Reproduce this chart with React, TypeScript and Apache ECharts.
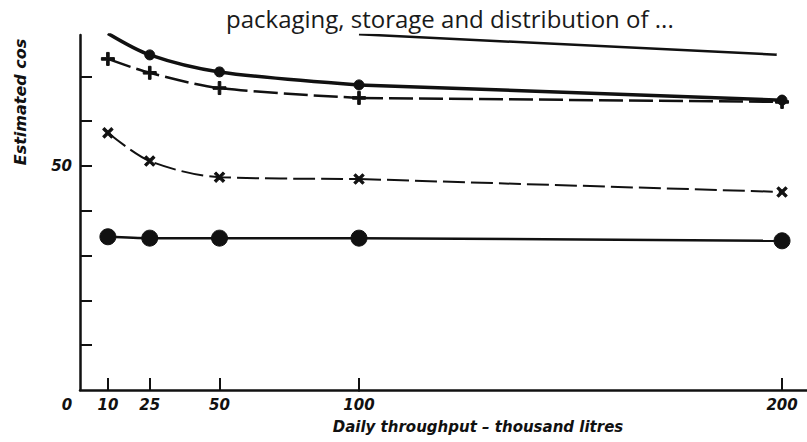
import React, { useEffect, useRef } from "react";
import * as echarts from "echarts";

const titleText = "packaging, storage and distribution of ...";
const xAxisName = "Daily throughput – thousand litres";
const yAxisName = "Estimated cos";

const xValues = [10, 25, 50, 100, 200];
const filledDot = [79.6, 74.8, 71.0, 68.1, 64.7];
const plusSeries = [73.9, 70.8, 67.4, 65.2, 64.3];
const crossSeries = [57.4, 51.1, 47.5, 47.1, 44.2];
const circleSeries = [34.2, 33.9, 33.9, 33.9, 33.3];
const openCircleX = [100, 200];
const openCircle = [79.4, 74.8];

const xLabelsLeft = [0, 10, 25, 50, 100];
const xTicksLeft = [10, 25, 50, 100];
const xTicksRight = [200];
const yTicks = [10, 20, 30, 40, 50, 60, 70];
const yLabels = [50];

const INK = "#111";
const PLUS = "path://M4,0H6V4H10V6H6V10H4V6H0V4H4Z";

function part(xs: number[], ys: number[], left: boolean) {
  const out: any[] = [];
  xs.forEach((x, i) => {
    if (left && x <= 100) out.push([x, ys[i]]);
    if (!left && x >= 100) {
      if (x === 100) out.push({ value: [x, ys[i]], symbol: "none" });
      else out.push([x, ys[i]]);
    }
  });
  return out;
}

export default function App() {
  const ref = useRef<HTMLDivElement>(null);
  useEffect(() => {
    if (!ref.current) return;
    const chart = echarts.init(ref.current, null, { renderer: "svg" });
    const labelFont = {
      fontFamily: "DejaVu Sans",
      fontWeight: "bold" as const,
      fontStyle: "italic" as const,
      fontSize: 15,
      color: INK,
    };
    const mk = (
      name: string,
      ys: number[],
      symbol: string,
      size: number,
      width: number,
      type: any,
      rotate = 0
    ) => [
      {
        name,
        type: "line",
        xAxisIndex: 0,
        yAxisIndex: 0,
        data: part(xValues, ys, true),
        symbol,
        symbolSize: size,
        symbolRotate: rotate,
        smooth: 0.3,
        clip: true,
        lineStyle: { color: INK, width, type },
        itemStyle: { color: INK, borderColor: INK },
      },
      {
        name,
        type: "line",
        xAxisIndex: 1,
        yAxisIndex: 1,
        data: part(xValues, ys, false),
        symbol,
        symbolSize: size,
        symbolRotate: rotate,
        clip: true,
        lineStyle: { color: INK, width, type },
        itemStyle: { color: INK, borderColor: INK },
      },
    ];
    const axisLine = { show: true, lineStyle: { color: INK, width: 2.5 } };
    chart.setOption({
      animation: false,
      backgroundColor: "#fff",
      title: {
        text: titleText,
        left: 221,
        top: 1,
        textStyle: {
          fontFamily: "Open Sans",
          fontWeight: "normal",
          fontSize: 24,
          color: "#1a1a1a",
        },
      },
      grid: [
        { left: 80, top: 35, width: 279, bottom: 52 },
        { left: 359, top: 35, right: 0, bottom: 52 },
      ],
      xAxis: [
        {
          type: "value",
          gridIndex: 0,
          min: 0,
          max: 100,
          axisLine,
          splitLine: { show: false },
          axisTick: {
            show: true,
            inside: true,
            length: 12,
            customValues: xTicksLeft,
            lineStyle: { color: INK, width: 2 },
          },
          axisLabel: {
            customValues: xLabelsLeft,
            margin: 7,
            ...labelFont,
            formatter: (v: number) => (v === 0 ? "{z|0}" : String(v)),
            rich: { z: { ...labelFont, padding: [0, 26, 0, 0] } },
          },
        },
        {
          type: "value",
          gridIndex: 1,
          min: 100,
          max: 205.9,
          axisLine,
          splitLine: { show: false },
          axisTick: {
            show: true,
            inside: true,
            length: 12,
            customValues: xTicksRight,
            lineStyle: { color: INK, width: 2 },
          },
          axisLabel: { customValues: xTicksRight, margin: 7, ...labelFont },
        },
      ],
      yAxis: [
        {
          type: "value",
          gridIndex: 0,
          min: 0,
          max: 79.24,
          interval: 10,
          axisLine,
          splitLine: { show: false },
          axisTick: {
            show: true,
            inside: true,
            length: 12,
            customValues: yTicks,
            lineStyle: { color: INK, width: 2 },
          },
          axisLabel: { customValues: yLabels, margin: 8, ...labelFont },
        },
        {
          type: "value",
          gridIndex: 1,
          min: 0,
          max: 79.24,
          interval: 10,
          show: false,
          splitLine: { show: false },
        },
      ],
      graphic: [
        {
          type: "text",
          x: 478,
          y: 427,
          style: {
            text: xAxisName,
            ...labelFont,
            fill: INK,
            align: "center",
            verticalAlign: "middle",
          },
        },
        {
          type: "text",
          x: 20,
          y: 102,
          rotation: Math.PI / 2,
          style: {
            text: yAxisName,
            ...labelFont,
            fontSize: 16,
            fill: INK,
            align: "center",
            verticalAlign: "middle",
          },
        },
      ],
      series: [
        ...mk("Filled dot", filledDot, "circle", 10, 3.5, "solid"),
        ...mk("Plus", plusSeries, PLUS, 13, 2.5, [24, 6]),
        ...mk("Cross", crossSeries, PLUS, 12, 2, [22, 6], 45),
        ...mk("Circle", circleSeries, "circle", 16, 2.5, "solid"),
        {
          name: "Open circle",
          type: "line",
          xAxisIndex: 1,
          yAxisIndex: 1,
          data: openCircleX.map((x, i) =>
            i === 0
              ? { value: [x, openCircle[i]], symbol: "none" }
              : [x, openCircle[i]]
          ),
          symbol: "emptyCircle",
          symbolSize: 9,
          clip: true,
          lineStyle: { color: INK, width: 2.5 },
          itemStyle: { color: "#fff", borderColor: INK, borderWidth: 2.5 },
        },
      ],
    });
    return () => chart.dispose();
  }, []);
  return (
    <div
      ref={ref}
      style={{ position: "absolute", left: 0, top: 0, width: 807, height: 442 }}
    />
  );
}
